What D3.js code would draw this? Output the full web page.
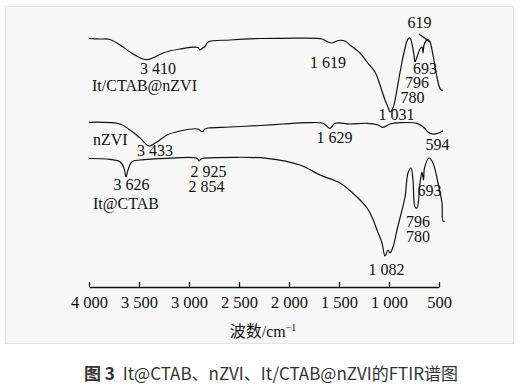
<!DOCTYPE html>
<html>
<head>
<meta charset="utf-8">
<script src="https://cdn.jsdelivr.net/npm/d3@7"></script>
<style>
  body { margin: 0; background: #fff; }
  .curve { fill: none; stroke: #111; stroke-width: 1.2; stroke-linejoin: round; }
  .label { font-family: "Liberation Serif", "Times New Roman", serif; font-size: 16px; fill: #111; }
  .axis text { font-family: "Liberation Serif", "Times New Roman", serif; font-size: 16.5px; fill: #111; }
  .axis path, .axis line { stroke: #111; stroke-width: 1.3; }
  .caption { font-family: "Noto Sans CJK SC", "Noto Sans", sans-serif; font-size: 17px; fill: #333; }
</style>
</head>
<body>
<div id="graph"></div>
<script>
// wavenumber (cm-1), relative transmittance (a.u., curves stacked)
const ctabNzvi = [
  [4000, 241.5], [3890, 241], [3790, 240.5], [3660, 233], [3560, 226], [3460, 221],
  [3410, 220.5], [3340, 223], [3260, 227], [3090, 231], [2910, 232.5], [2890, 230],
  [2870, 231.5], [2840, 233.5], [2810, 238], [2590, 240], [2290, 241.5], [2060, 241.7],
  [1720, 241.7], [1670, 241], [1620, 238.5], [1570, 237], [1510, 239.5], [1440, 239],
  [1390, 235], [1290, 227], [1220, 218], [1140, 208], [1090, 195], [1040, 180],
  [1010, 173], [990, 168], [960, 172], [930, 185], [900, 202], [870, 218], [840, 232],
  [810, 241], [790, 242], [770, 236], [750, 225], [740, 218], [720, 223], [690, 231],
  [670, 233], [660, 227], [650, 235], [630, 239], [610, 240.5], [590, 238], [560, 225],
  [530, 208], [500, 194], [480, 190], [460, 190]
];
const nzvi = [
  [4000, 157.7], [3690, 156], [3590, 150], [3490, 142], [3420, 135], [3390, 134],
  [3320, 138], [3220, 145], [3090, 149], [2910, 151], [2870, 148.3], [2840, 151],
  [2810, 152], [2590, 153], [2290, 154.5], [2060, 156], [1820, 157.3], [1660, 156.7],
  [1590, 151.7], [1540, 156.7], [1390, 156], [1220, 156.7], [1110, 155], [1060, 152.7],
  [990, 156], [890, 157.3], [720, 156.7], [660, 153.3], [610, 148], [570, 146],
  [510, 146.7], [460, 149.3]
];
const itCtab = [
  [4000, 121.5], [3790, 120.7], [3690, 118.3], [3650, 112], [3630, 103], [3610, 110],
  [3570, 118.3], [3490, 120], [3220, 121.7], [2920, 121.7], [2900, 119], [2880, 121],
  [2860, 121.7], [2560, 122.7], [2220, 121.7], [1890, 115], [1690, 105], [1490, 97],
  [1320, 83], [1220, 72], [1170, 63], [1120, 50], [1070, 37], [1040, 24], [1010, 30],
  [990, 27], [960, 33], [920, 50], [890, 62], [840, 83], [810, 107], [780, 112],
  [760, 100], [740, 73], [720, 72], [690, 97], [670, 108], [655, 100], [645, 112],
  [600, 122], [560, 117], [510, 97], [470, 77], [460, 59], [440, 59]
];

const xTicks = [4000, 3500, 3000, 2500, 2000, 1500, 1000, 500];

// peak / sample labels: text, wavenumber, value, anchor
const peakLabels = [
  ["3 410", 3310, 206, "middle"], ["1 619", 1610, 212, "middle"], ["619", 695, 252, "middle"],
  ["693", 640, 206, "middle"], ["796", 720, 192, "middle"], ["780", 765, 177, "middle"],
  ["1 031", 925, 160, "middle"], ["It/CTAB@nZVI", 3970, 189, "start"],
  ["nZVI", 3960, 135, "start"], ["3 433", 3340, 124, "middle"], ["1 629", 1545, 137, "middle"],
  ["594", 515, 130, "middle"],
  ["3 626", 3575, 90, "middle"], ["2 925", 2805, 103, "middle"], ["2 854", 2825, 88, "middle"],
  ["It@CTAB", 3960, 71, "start"], ["693", 595, 84, "middle"], ["796", 710, 53, "middle"],
  ["780", 710, 38, "middle"], ["1 082", 1025, 5, "middle"]
];
const leader619 = [[700, 246], [590, 238]];

const width = 529, height = 387;
const svg = d3.select("#graph").append("svg")
  .attr("width", width)
  .attr("height", height);

svg.append("rect")
  .attr("x", 5.5).attr("y", 6.5)
  .attr("width", 508).attr("height", 337)
  .attr("fill", "#f7f7f7")
  .attr("stroke", "#dfe3e3");

const x = d3.scaleLinear().domain([4000, 500]).range([89, 439]);
const y = d3.scaleLinear().domain([0, 260]).range([280, 20]);

const line = d3.line()
  .x(d => x(d[0]))
  .y(d => y(d[1]))
  .curve(d3.curveCatmullRom.alpha(0.5));

[ctabNzvi, nzvi, itCtab].forEach(series => {
  svg.append("path").attr("class", "curve").attr("d", line(series));
});

svg.append("path").attr("class", "curve").attr("d", d3.line().x(d => x(d[0])).y(d => y(d[1]))(leader619));

svg.selectAll(".label")
  .data(peakLabels)
  .join("text")
  .attr("class", "label")
  .attr("x", d => x(d[1]))
  .attr("y", d => y(d[2]))
  .attr("text-anchor", d => d[3])
  .text(d => d[0]);

const axis = d3.axisBottom(x)
  .tickValues(xTicks)
  .tickSizeInner(-5)
  .tickSizeOuter(0)
  .tickPadding(9)
  .tickFormat(d => d3.format(",")(d).replace(",", " "));

svg.append("g")
  .attr("class", "axis")
  .attr("transform", "translate(0,287)")
  .call(axis);

const title = svg.append("text")
  .attr("class", "label")
  .attr("x", 263)
  .attr("y", 337)
  .attr("text-anchor", "middle");
title.append("tspan").style("font-family", "'Noto Sans CJK SC', serif").text("波数");
title.append("tspan").text("/cm");
title.append("tspan").attr("dy", -6).style("font-size", "10px").text("−1");

const caption = svg.append("text")
  .attr("class", "caption")
  .attr("x", 271)
  .attr("y", 380)
  .attr("text-anchor", "middle");
caption.append("tspan").style("font-weight", "bold").text("图 3");
caption.append("tspan").attr("dx", 4).text(" It@CTAB、nZVI、It/CTAB@nZVI的FTIR谱图");
</script>
</body>
</html>
